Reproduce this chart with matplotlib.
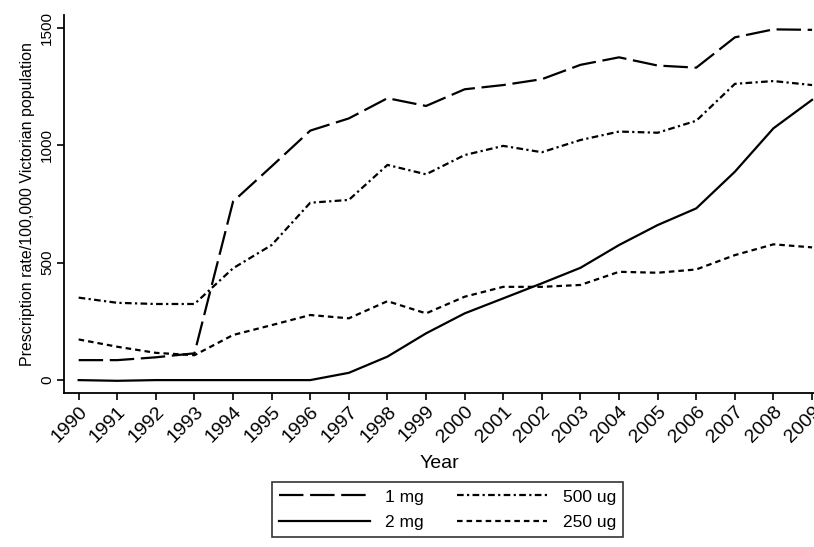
import matplotlib
matplotlib.use("Agg")
import matplotlib.pyplot as plt

plt.rcParams['font.family'] = ['Liberation Sans', 'DejaVu Sans']

years = list(range(1990, 2010))

# prescription rate per 100,000 Victorian population
mg1 = [85, 85, 97, 114, 760, 910, 1062, 1114, 1200, 1167, 1238, 1256, 1281, 1342, 1374,
       1339, 1330, 1459, 1493, 1491]
mg2 = [0, -3, 0, 0, 0, 0, 0, 31, 100, 199, 284, 348, 412, 478, 575,
       660, 731, 887, 1072, 1193]
ug500 = [351, 329, 324, 324, 476, 575, 755, 767, 916, 876, 958, 997, 970, 1022, 1058,
         1053, 1104, 1261, 1273, 1256]
ug250 = [173, 142, 116, 106, 192, 234, 277, 263, 336, 284, 355, 397, 397, 405, 461,
         457, 471, 532, 578, 565]

fig = plt.figure(figsize=(8.14, 5.47), dpi=100)
ax = fig.add_axes([0.0786, 0.2815, 0.9214, 0.691])

lw = 1.6
l1, = ax.plot(years, mg1, c="black", lw=lw, dashes=(11, 3))
l2, = ax.plot(years, mg2, c="black", lw=lw)
l3, = ax.plot(years, ug500, c="black", lw=lw, dashes=(3, 1.5, 1, 1.5))
l4, = ax.plot(years, ug250, c="black", lw=lw, dashes=(2.5, 1.8))

ax.set_xlim(1989.62, 2009.05)
ax.set_ylim(-55, 1554)
ax.set_xticks(years)
ax.set_xticklabels([str(y) for y in years], rotation=45, ha="right",
                   rotation_mode="anchor", fontsize=14)
ax.set_yticks([0, 500, 1000, 1500])
ax.set_yticklabels(["0", "500", "1000", "1500"], rotation=90, va="center", fontsize=11)
ax.tick_params(direction="out", length=5, width=1.2, colors="black", pad=2)
for side in ["top", "right"]:
    ax.spines[side].set_visible(False)
for side in ["left", "bottom"]:
    ax.spines[side].set_linewidth(1.3)

ax.set_xlabel("Year", fontsize=14, labelpad=7)
ax.set_ylabel("Prescription rate/100,000 Victorian population", fontsize=11.5, labelpad=4)

leg = fig.legend([l1, l2, l3, l4], ["1 mg", "2 mg", "500 ug", "250 ug"],
                 loc="upper center", bbox_to_anchor=(0.55, 0.118), ncol=2,
                 fontsize=12.5, handlelength=5.2, handletextpad=0.9, columnspacing=1.9,
                 frameon=True, fancybox=False, borderpad=0.4, labelspacing=0.6,
                 borderaxespad=0)
leg.get_frame().set_edgecolor("black")
leg.get_frame().set_linewidth(1.2)

fig.savefig("out.png", dpi=100)
